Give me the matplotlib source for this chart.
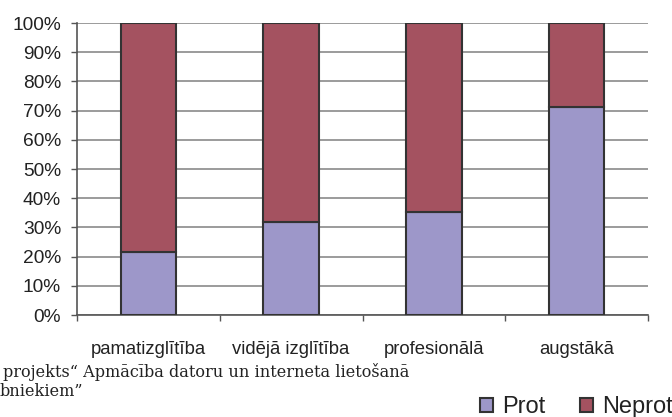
import matplotlib
matplotlib.use("Agg")
import matplotlib.pyplot as plt
import numpy as np

categories = ["pamatizglītība", "vidējā izglītība", "profesionālā", "augstākā"]
prot = [21.7, 31.8, 35.2, 71.1]
neprot = [78.3, 68.2, 64.8, 28.9]
series_names = ["Prot", "Neprot"]
ytick_labels = [f"{v}%" for v in range(0, 101, 10)]
source_lines = ["projekts“ Apmācība datoru un interneta lietošanā", "bniekiem”"]

W, H = 672, 417
fig = plt.figure(figsize=(W / 100, H / 100), dpi=100)
ax = fig.add_axes([77 / W, (H - 315) / H, (648 - 77) / W, (315 - 23) / H])

sans = "Liberation Sans"
x = np.arange(len(categories))
b1 = ax.bar(x, prot, width=0.39, color="#9D97C9", edgecolor="#333333", linewidth=1.5, zorder=3,
            label=series_names[0])
b2 = ax.bar(x, neprot, width=0.39, bottom=prot, color="#A45260", edgecolor="#333333", linewidth=1.5,
            zorder=3, label=series_names[1])

ax.set_xlim(-0.5, len(categories) - 0.5)
ax.set_ylim(0, 100)
ax.set_yticks(range(0, 101, 10))
ax.set_yticklabels(ytick_labels, fontsize=13.8, family=sans, color="#222222")
ax.yaxis.grid(True, color="#8a8a8a", linewidth=1.2, zorder=0)
ax.tick_params(axis="y", length=4.5, width=1, color="#555555", pad=7)

ax.set_xticks(x)
ax.set_xticklabels(categories, fontsize=13.3, family=sans, color="#222222")
ax.tick_params(axis="x", which="major", length=0, pad=19)
ax.set_xticks(np.arange(-0.5, len(categories), 1.0), minor=True)
ax.tick_params(axis="x", which="minor", length=4.5, width=1, color="#555555", direction="out")

for s in ["top", "right"]:
    ax.spines[s].set_visible(False)
for s in ["left", "bottom"]:
    ax.spines[s].set_color("#555555")
    ax.spines[s].set_linewidth(1.2)

fig.text(3 / W, 1 - 377.3 / H, source_lines[0], family="DejaVu Serif", fontsize=11.6,
         color="#222222", ha="left", va="baseline")
fig.text(0 / W, 1 - 395.5 / H, source_lines[1], family="DejaVu Serif", fontsize=11.6,
         color="#222222", ha="left", va="baseline")

leg = fig.legend(handles=[b1, b2], labels=series_names, loc="lower left",
                 bbox_to_anchor=(480 / W, -1 / H), ncol=2, frameon=False,
                 prop={"family": sans, "size": 17}, handlelength=0.55, handleheight=0.55,
                 handletextpad=0.37, columnspacing=1.5, borderpad=0.0, borderaxespad=0.0)
for t in leg.get_texts():
    t.set_color("#222222")

fig.savefig("out.png", dpi=100)
